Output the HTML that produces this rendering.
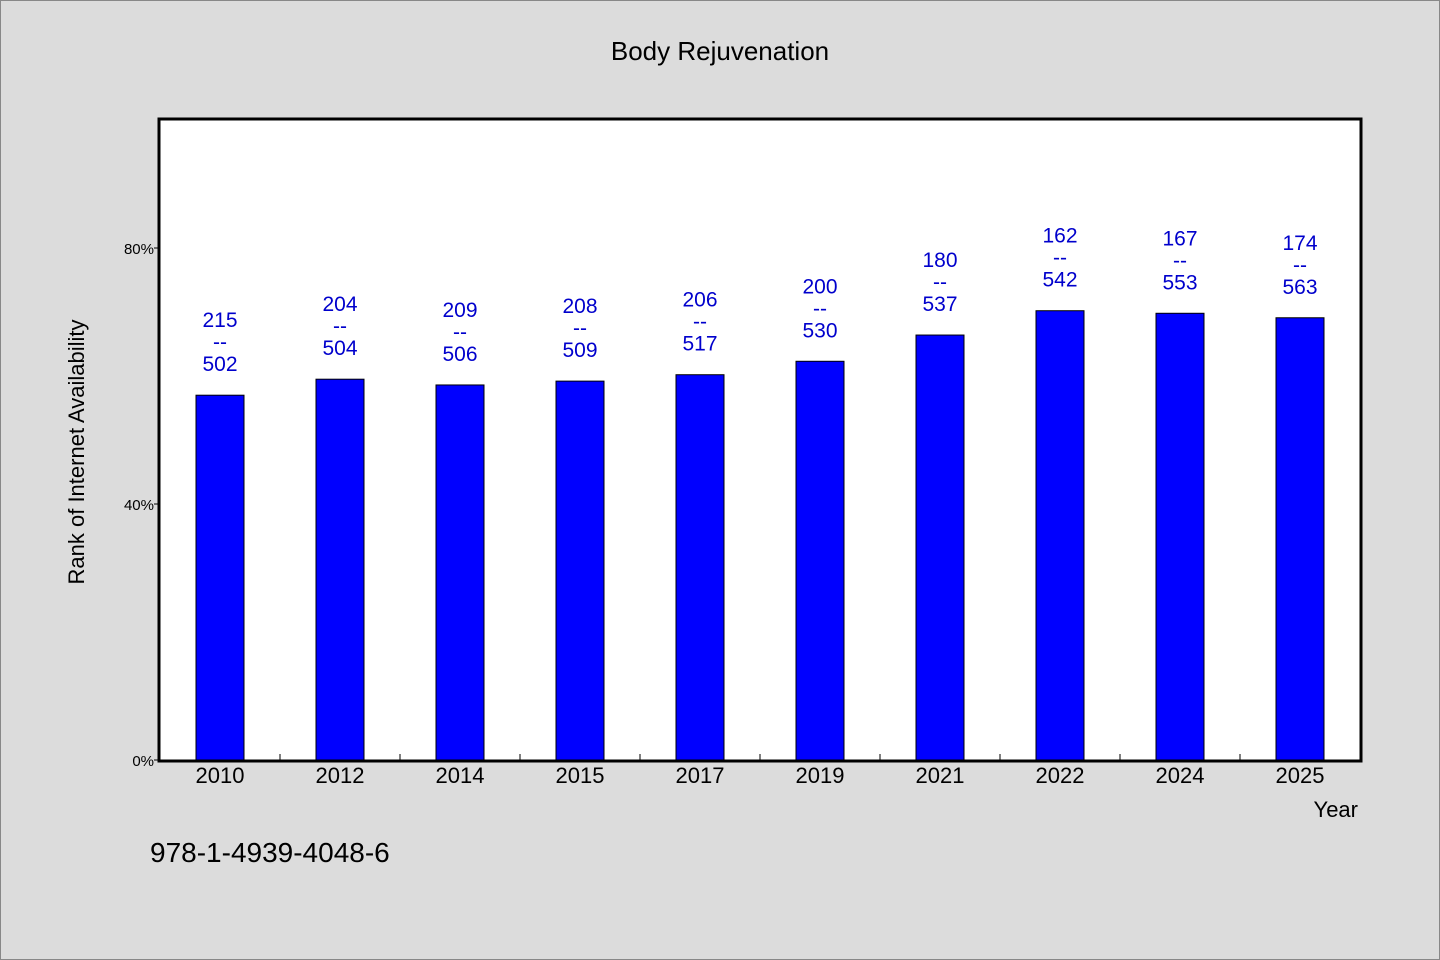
<!DOCTYPE html>
<html><head><meta charset="utf-8"><style>
html,body{margin:0;padding:0;background:#dcdcdc;}
svg{display:block;font-family:"WenQuanYi Zen Hei","Liberation Sans",sans-serif;}
</style></head><body>
<svg id="chart" width="1440" height="960" viewBox="0 0 1440 960" xmlns="http://www.w3.org/2000/svg">
<rect x="0.5" y="0.5" width="1439" height="959" fill="#dcdcdc" stroke="#888"/>
<text x="720" y="60" text-anchor="middle" font-size="26" fill="#000">Body Rejuvenation</text>
<rect x="159" y="119" width="1202" height="642" fill="#fff" stroke="#000" stroke-width="3"/>
<g id="bars"></g>
<g id="xaxis"></g>
<g id="yaxis"></g>
<text x="1358" y="817" text-anchor="end" font-size="22" fill="#000">Year</text>
<text transform="translate(84,452) rotate(-90)" text-anchor="middle" font-size="22" fill="#000">Rank of Internet Availability</text>
<text x="150" y="862" font-size="28" fill="#000">978-1-4939-4048-6</text>
</svg>
<script>
const categories = ["2010","2012","2014","2015","2017","2019","2021","2022","2024","2025"];
const values = [57.0,59.5,58.6,59.2,60.2,62.3,66.4,70.2,69.8,69.1];
const topLabels = ["215","204","209","208","206","200","180","162","167","174"];
const bottomLabels = ["502","504","506","509","517","530","537","542","553","563"];
const yTicks = [0,40,80];
const yTickLabels = ["0%","40%","80%"];

const NS="http://www.w3.org/2000/svg";
const X0=160, Y0=760, H=640, BW=120, BARW=48;
function yScale(v){return Y0 - v/100*H;}
function xCenter(i){return X0 + BW*i + BW/2;}
function mk(tag,attrs,parent,txt){const e=document.createElementNS(NS,tag);for(const k in attrs)e.setAttribute(k,attrs[k]);if(txt!==undefined)e.textContent=txt;parent.appendChild(e);return e;}
const gb=document.getElementById('bars'), gx=document.getElementById('xaxis'), gy=document.getElementById('yaxis');
categories.forEach((c,i)=>{
  const cx=xCenter(i), yt=yScale(values[i]);
  const r=mk('rect',{x:cx-BARW/2,y:yt,width:BARW,height:Y0-yt,fill:'#0000ff',stroke:'#000','stroke-width':1},gb);
  
  
  const t1=mk('text',{x:cx,y:yt-68,'text-anchor':'middle','font-size':21,fill:'#0000cc'},gb,topLabels[i]);
  
  
  const t2=mk('text',{x:cx,y:yt-46,'text-anchor':'middle','font-size':21,fill:'#0000cc'},gb,'--');
  
  
  const t3=mk('text',{x:cx,y:yt-24,'text-anchor':'middle','font-size':21,fill:'#0000cc'},gb,bottomLabels[i]);
  
  
  const xl=mk('text',{x:cx,y:783,'text-anchor':'middle','font-size':22,fill:'#000'},gx,c);
  
  
  if(i>0){
    const tk=mk('line',{x1:X0+BW*i,x2:X0+BW*i,y1:Y0,y2:Y0-6,stroke:'#000','stroke-width':1},gx);
    
    
  }
});
yTicks.forEach((v,i)=>{
  const y=yScale(v);
  const tk=mk('line',{x1:X0-6,x2:X0,y1:y,y2:y,stroke:'#000','stroke-width':1},gy);
  
  
  const tl=mk('text',{x:X0-6,y:y+6,'text-anchor':'end','font-size':15,fill:'#000'},gy,yTickLabels[i]);
  
  
});
</script>
</body></html>
